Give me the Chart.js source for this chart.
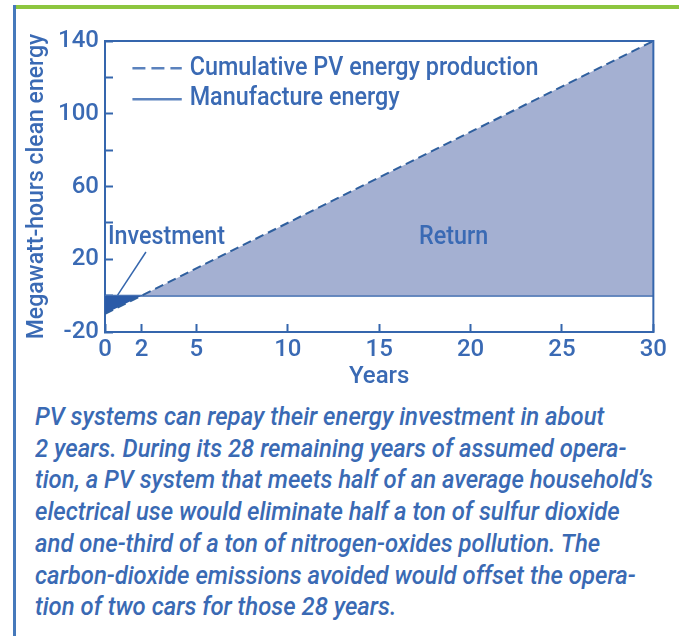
<!DOCTYPE html>
<html>
<head>
<meta charset="utf-8">
<script src="https://cdn.jsdelivr.net/npm/chart.js@4/dist/chart.umd.min.js"></script>
<style>
    body { margin: 0; background: #fff; width: 679px; height: 636px; overflow: hidden; position: relative; }
    #greenbar { position: absolute; left: 14px; top: 5px; width: 665px; height: 4px; background: #8dc63f; }
    #leftbar { position: absolute; left: 13px; top: 5px; width: 3px; height: 631px; background: #4679bb; }
    #chart { position: absolute; left: 0; top: 0; }
    #caption {
        position: absolute; left: 35px; top: 401px;
        font-family: Roboto, "Liberation Sans", sans-serif;
        font-style: italic; font-weight: 500; font-size: 25px; line-height: 31.7px;
        color: #3a6ab4; white-space: nowrap;
        transform: scaleX(0.955); transform-origin: 0 0;
    }
</style>
</head>
<body>
<div id="greenbar"></div>
<div id="leftbar"></div>
<canvas id="chart" width="679" height="400"></canvas>
<div id="caption">PV systems can repay their energy investment in about<br>2 years. During its 28 remaining years of assumed opera-<br>tion, a PV system that meets half of an average household’s<br>electrical use would eliminate half a ton of sulfur dioxide<br>and one-third of a ton of nitrogen-oxides pollution. The<br>carbon-dioxide emissions avoided would offset the opera-<br>tion of two cars for those 28 years.</div>
<script>
// data
const years = [0, 2, 30];
const cumulativeMWh = [-10, 0, 140];
const manufactureYears = [0, 30];
const manufactureMWh = [0, 0];
const xTickValues = [0, 2, 5, 10, 15, 20, 25, 30];
const yLabelValues = [140, 100, 60, 20, -20];

const blue = '#3566ad';
const textBlue = '#3a6ab4';
const font = 'Roboto';

// legend, labels and the leader line, placed in data units
const notes = {
    legend: [
        { y: 125, dash: [13, 6], text: 'Cumulative PV energy production' },
        { y: 108, dash: [], text: 'Manufacture energy' }
    ],
    return: { x: 19.07, y: 32, text: 'Return' },
    investment: { x: 0.16, y: 32, text: 'Investment' },
    leader: [[2.24, 24], [0.69, 0.3]]
};

// narrow text: squeeze horizontally around the anchor
function narrowText(ctx, text, x, y, align) {
    ctx.save();
    ctx.translate(x, y);
    ctx.scale(0.935, 1);
    ctx.textAlign = align;
    ctx.fillText(text, 0, 0);
    ctx.restore();
}

const boxPlugin = {
    id: 'box',
    afterDatasetsDraw(chart) {
        const { ctx, chartArea: a, scales } = chart;
        const xs = scales.x, ys = scales.y;
        ctx.save();
        ctx.strokeStyle = blue;
        ctx.lineWidth = 2;
        ctx.beginPath();
        ctx.moveTo(a.left, a.top);
        ctx.lineTo(a.right, a.top);
        ctx.lineTo(a.right, a.bottom);
        ctx.stroke();

        // leader line
        ctx.lineWidth = 1.5;
        ctx.beginPath();
        ctx.moveTo(xs.getPixelForValue(notes.leader[0][0]), ys.getPixelForValue(notes.leader[0][1]));
        ctx.lineTo(xs.getPixelForValue(notes.leader[1][0]), ys.getPixelForValue(notes.leader[1][1]));
        ctx.stroke();

        ctx.fillStyle = textBlue;
        ctx.font = '500 25px ' + font;
        ctx.textBaseline = 'middle';
        // legend
        notes.legend.forEach(item => {
            const y = ys.getPixelForValue(item.y);
            ctx.setLineDash(item.dash);
            ctx.lineWidth = 2.5;
            ctx.strokeStyle = '#5b82bd';
            ctx.beginPath();
            ctx.moveTo(xs.getPixelForValue(1.5), y);
            ctx.lineTo(xs.getPixelForValue(4.2), y);
            ctx.stroke();
            ctx.setLineDash([]);
            narrowText(ctx, item.text, xs.getPixelForValue(4.63), y, 'left');
        });
        narrowText(ctx, notes.investment.text, xs.getPixelForValue(notes.investment.x), ys.getPixelForValue(notes.investment.y), 'left');
        narrowText(ctx, notes.return.text, xs.getPixelForValue(notes.return.x), ys.getPixelForValue(notes.return.y), 'center');
        ctx.restore();
    }
};

new Chart(document.getElementById('chart'), {
    type: 'line',
    data: {
        datasets: [
            {
                label: 'Cumulative PV energy production',
                data: years.map((x, i) => ({ x: x, y: cumulativeMWh[i] })),
                borderColor: '#2f5f9e',
                borderWidth: 2,
                borderDash: [9, 5],
                pointRadius: 0,
                tension: 0,
                fill: { target: { value: 0 }, above: '#a4b0d2', below: '#2b5ba8' }
            },
            {
                label: 'Manufacture energy',
                data: manufactureYears.map((x, i) => ({ x: x, y: manufactureMWh[i] })),
                borderColor: blue,
                borderWidth: 2,
                pointRadius: 0,
                fill: false
            }
        ]
    },
    options: {
        responsive: false,
        animation: false,
        layout: { padding: { left: 0, top: 41, right: 11, bottom: 0 } },
        plugins: { legend: { display: false }, tooltip: { enabled: false } },
        scales: {
            x: {
                type: 'linear',
                min: 0,
                max: 30,
                afterBuildTicks: (scale) => { scale.ticks = xTickValues.map(v => ({ value: v })); },
                afterFit: (scale) => { scale.height = 68; },
                ticks: { color: textBlue, font: { family: font, size: 24, weight: 500 }, padding: 12, maxRotation: 0, autoSkip: false },
                grid: { drawOnChartArea: false, tickLength: -8, tickColor: blue, tickWidth: 2 },
                border: { color: blue, width: 2 },
                title: { display: true, text: 'Years', color: textBlue, font: { family: font, size: 24, weight: 500 }, padding: { top: 0, bottom: 9 } }
            },
            y: {
                min: -20,
                max: 140,
                afterFit: (scale) => { scale.width = 105; },
                ticks: {
                    stepSize: 20,
                    color: textBlue,
                    font: { family: font, size: 24, weight: 500 },
                    padding: 14,
                    callback: (v) => yLabelValues.includes(v) ? String(v) : ''
                },
                grid: { drawOnChartArea: false, tickLength: -8, tickColor: blue, tickWidth: 2 },
                border: { color: blue, width: 2 },
                title: { display: true, text: 'Megawatt-hours clean energy', color: textBlue, font: { family: font, size: 23, weight: 500 }, padding: { top: 23, bottom: 0 } }
            }
        }
    },
    plugins: [boxPlugin]
});
</script>
</body>
</html>
